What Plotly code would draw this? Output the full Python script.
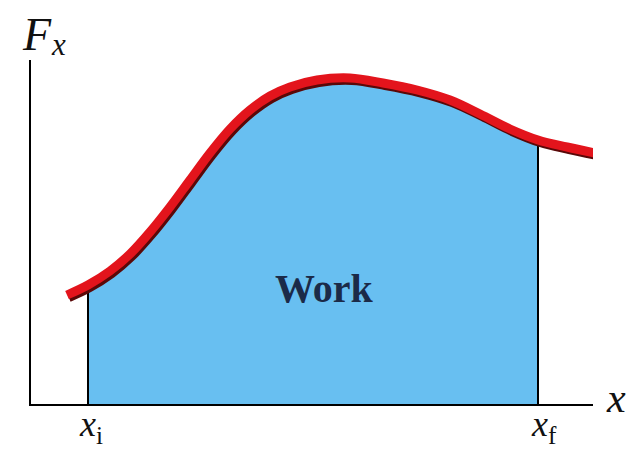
import plotly.graph_objects as go

W, H = 638, 451
OFF = 8  # page body margin

# Curve F_x(x) (x from the origin, F upward)
curve_x = [36, 57, 79, 99, 119, 139, 159, 179, 199, 219, 239, 259, 286, 319, 352, 386, 419, 449, 479, 507, 536, 564]
curve_F = [109, 119, 133, 150, 172, 197, 224, 251, 275, 294, 308, 317, 324, 326, 321, 314, 304, 290, 275, 264, 257, 251]

x_i_index = 1    # x_i = 57
x_f_index = 19   # x_f = 507

x_range = [0, 562]
F_range = [0, 344]

fill_color = "#68bff1"
red = "#e3141c"
dark = "#5a0808"
ink = "#111111"
serif = "Liberation Serif"

def px(x):
    return (x - OFF) / (W - OFF)

def py(y):
    return 1 - (y - OFF) / (H - OFF)

fig = go.Figure()

# area under the curve between x_i and x_f
fig.add_trace(go.Scatter(
    x=curve_x[x_i_index:x_f_index + 1], y=curve_F[x_i_index:x_f_index + 1],
    mode="lines", line=dict(width=0, shape="spline", color=fill_color),
    fill="tozeroy", fillcolor=fill_color, hoverinfo="skip"))

# vertical boundaries
for idx in (x_i_index, x_f_index):
    fig.add_trace(go.Scatter(
        x=[curve_x[idx], curve_x[idx]], y=[0, curve_F[idx]],
        mode="lines", line=dict(color="black", width=2), hoverinfo="skip"))

# dark shading under the red curve
fig.add_trace(go.Scatter(
    x=[v + 2 for v in curve_x], y=[v - 3 for v in curve_F],
    mode="lines", line=dict(color=dark, width=8, shape="spline"), hoverinfo="skip"))
fig.add_trace(go.Scatter(
    x=curve_x, y=curve_F,
    mode="lines", line=dict(color=red, width=9, shape="spline"), hoverinfo="skip"))

annotations = [
    dict(text="<i>F</i>", x=px(37), y=py(8), xanchor="center", yanchor="top", borderpad=0,
         font=dict(size=46, color=ink, family=serif)),
    dict(text="<i>x</i>", x=px(58), y=py(44), xanchor="center", yanchor="middle",
         font=dict(size=31, color=ink, family=serif)),
    dict(text="<i>x</i>", x=px(616), y=py(398), xanchor="center", yanchor="middle",
         font=dict(size=42, color=ink, family=serif)),
    dict(text="<i>x</i><sub>i</sub>", x=px(77), y=py(426), xanchor="left", yanchor="middle",
         font=dict(size=36, color=ink, family=serif)),
    dict(text="<i>x</i><sub>f</sub>", x=px(529), y=py(426), xanchor="left", yanchor="middle",
         font=dict(size=36, color=ink, family=serif)),
    dict(text="<b>Work</b>", x=px(324), y=py(288), xanchor="center", yanchor="middle",
         font=dict(size=40, color="#1b2a48", family=serif)),
]
for a in annotations:
    a.update(xref="paper", yref="paper", showarrow=False)

fig.update_layout(
    width=W - OFF, height=H - OFF,
    margin=dict(l=0, r=0, t=0, b=0),
    paper_bgcolor="white", plot_bgcolor="white",
    showlegend=False,
    annotations=annotations,
    xaxis=dict(domain=[px(31), px(593)], range=x_range, showline=True, linecolor="black",
               linewidth=2, showgrid=False, zeroline=False, showticklabels=False, ticks=""),
    yaxis=dict(domain=[py(404), py(60)], range=F_range, showline=True,
               linecolor="black", linewidth=2, showgrid=False, zeroline=False,
               showticklabels=False, ticks=""),
)

fig.write_html("out.html")
